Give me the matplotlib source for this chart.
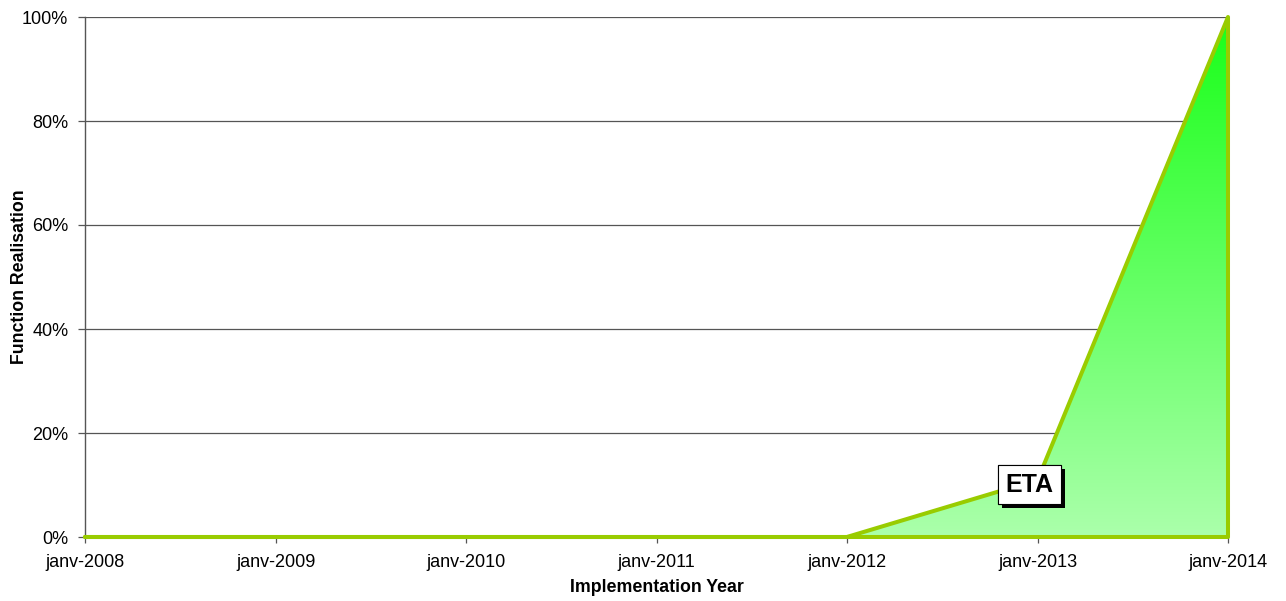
import numpy as np
import matplotlib
matplotlib.use("Agg")
import matplotlib.pyplot as plt
import matplotlib.dates as mdates
import matplotlib.patheffects as pe
from datetime import datetime

# Data
years = [2008, 2009, 2010, 2011, 2012, 2013, 2014]
tick_labels = ["janv-2008", "janv-2009", "janv-2010", "janv-2011",
               "janv-2012", "janv-2013", "janv-2014"]
realisation = [0.0, 0.0, 0.0, 0.0, 0.0, 0.11, 1.0]
eta_label = "ETA"
eta_index = 5

plt.rcParams['font.family'] = ['Liberation Sans', 'DejaVu Sans']

dates = [datetime(y, 1, 1) for y in years]
xnum = mdates.date2num(dates)

fig = plt.figure(figsize=(12.86, 6.01), dpi=100)
ax = fig.add_axes([85/1286, 1-537/601, (1228-85)/1286, (537-17)/601])

ax.set_xlim(xnum[0], xnum[-1])
ax.set_ylim(0, 1)

# gridlines
yt = np.arange(0, 1.01, 0.2)
ax.set_yticks(yt)
ax.set_yticklabels([f"{int(round(v*100))}%" for v in yt])
ax.yaxis.grid(True, color="#555555", linewidth=0.9)
ax.set_axisbelow(True)

# gradient fill clipped to area
n = 256
t = np.linspace(0, 1, n)[:, None]  # 0 bottom -> 1 top
top = np.array([0.10, 1.0, 0.10])
bot = np.array([0.67, 1.0, 0.67])
grad = bot + (top - bot) * t
img = np.repeat(grad[:, None, :], 2, axis=1)
im = ax.imshow(img, extent=[xnum[0], xnum[-1], 0, 1], origin="lower",
               aspect="auto", zorder=2, interpolation="bilinear")
fill_clip = ax.fill_between(xnum, realisation, 0, facecolor="none",
                            edgecolor="none")
im.set_clip_path(fill_clip.get_paths()[0], transform=ax.transData)

ax.set_xticks(xnum)
ax.set_xticklabels(tick_labels)

for s in ["top", "right"]:
    ax.spines[s].set_visible(False)
ax.spines["left"].set_color("#555555")
ax.spines["bottom"].set_color("#555555")
ax.spines["left"].set_linewidth(1.0)
ax.spines["bottom"].set_linewidth(1.0)
ax.spines["bottom"].set_zorder(2.5)

edge = ax.fill_between(xnum, realisation, 0, facecolor="none",
                       edgecolor="#99cc00", linewidth=2.9, zorder=3)
edge.set_clip_on(False)

ax.tick_params(axis="both", direction="out", width=0.9,
               color="#555555", labelsize=13, labelcolor="black")
ax.tick_params(axis="x", length=4, pad=8)
ax.tick_params(axis="y", length=5, pad=7)

ax.set_xlabel("Implementation Year", fontsize=12.8, fontweight="bold",
              va="center")
ax.set_ylabel("Function Realisation", fontsize=12.8, fontweight="bold",
              va="center")
ax.xaxis.set_label_coords(0.5, (537 - 588) / 520)
ax.yaxis.set_label_coords((20 - 85) / 1143, 0.5)

# ETA label
t_eta = ax.annotate(eta_label, xy=(xnum[eta_index], realisation[eta_index]),
                    xytext=(-8, -5), textcoords="offset pixels",
                    ha="center", va="center", fontsize=18, fontweight="bold",
                    zorder=6,
                    bbox=dict(boxstyle="square,pad=0.3", facecolor="white",
                              edgecolor="black", linewidth=0.8))
t_eta.get_bbox_patch().set_path_effects([
    pe.withSimplePatchShadow(offset=(2.5, -2.5), shadow_rgbFace="black", alpha=1.0),
    pe.Normal()])

fig.savefig("out.png", dpi=100)
